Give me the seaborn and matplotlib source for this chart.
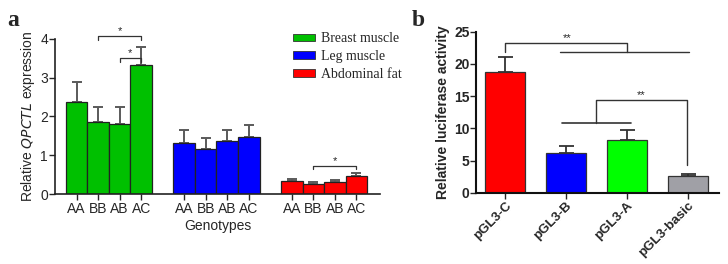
import numpy as np
import pandas as pd
import matplotlib
matplotlib.use("Agg")
import matplotlib.pyplot as plt
import seaborn as sns
from matplotlib.patches import Patch

# ---- data ----
genotypes = ["AA", "BB", "AB", "AC"]
tissues = ["Breast muscle", "Leg muscle", "Abdominal fat"]
breast_mean = [2.36, 1.85, 1.80, 3.32]
breast_err = [0.53, 0.40, 0.43, 0.48]
leg_mean = [1.32, 1.16, 1.37, 1.48]
leg_err = [0.33, 0.28, 0.27, 0.29]
fat_mean = [0.34, 0.25, 0.31, 0.46]
fat_err = [0.05, 0.06, 0.06, 0.08]

constructs = ["pGL3-C", "pGL3-B", "pGL3-A", "pGL3-basic"]
luc_mean = [18.7, 6.1, 8.2, 2.65]
luc_err = [2.4, 1.2, 1.5, 0.3]

tissue_colors = ["#00c000", "#0000ff", "#ff0000"]
construct_colors = ["#ff0000", "#0000ff", "#00ff00", "#a0a0a6"]

sns.set_theme(style="ticks")
plt.rcParams["font.family"] = ["Liberation Sans", "DejaVu Sans"]

fig = plt.figure(figsize=(7.28, 2.64), dpi=100)
axa = fig.add_axes([0.0755, 0.265, 0.4464, 0.588])
axb = fig.add_axes([0.6545, 0.270, 0.333, 0.610])

# ---- panel a ----
rows = []
means_all = [breast_mean, leg_mean, fat_mean]
errs_all = [breast_err, leg_err, fat_err]
for g, t in enumerate(tissues):
    for i, gt in enumerate(genotypes):
        rows.append({"pos": g * 5 + i, "value": means_all[g][i],
                     "err": errs_all[g][i], "tissue": t, "genotype": gt})
dfa = pd.DataFrame(rows)

for g, t in enumerate(tissues):
    sub = dfa[dfa.tissue == t]
    axa.errorbar(sub["pos"], sub["value"], yerr=[np.zeros(len(sub)), sub["err"]],
                 fmt="none", ecolor="#5a5a5a", elinewidth=1.4, capsize=3.6,
                 capthick=1.4, zorder=1)

sns.barplot(data=dfa, x="pos", y="value", hue="tissue", hue_order=tissues,
            palette=tissue_colors, native_scale=True, dodge=False, width=1.0,
            saturation=1, edgecolor="#222222", linewidth=0.9, legend=False,
            ax=axa, zorder=2)

axa.set_xlim(-1.01, 14.1)
axa.set_ylim(0, 4)
axa.set_yticks([0, 1, 2, 3, 4])
axa.set_xticks(dfa["pos"])
axa.set_xticklabels(dfa["genotype"], fontsize=10)
axa.tick_params(axis="y", labelsize=10, length=4, width=1, pad=1)
axa.tick_params(axis="x", length=4, width=1, pad=2)
axa.set_xlabel("Genotypes", fontsize=10, labelpad=2)
axa.set_ylabel("Relative $\\mathit{QPCTL}$ expression", fontsize=10, labelpad=2)
for s in ["top", "right"]:
    axa.spines[s].set_visible(False)
for s in ["left", "bottom"]:
    axa.spines[s].set_linewidth(1.2)
    axa.spines[s].set_color("#222222")

def bracket(ax, x1, x2, y, h, txt, fs=8):
    ax.plot([x1, x1, x2, x2], [y - h, y, y, y - h], color="#333333", lw=0.9,
            clip_on=False)
    ax.text((x1 + x2) / 2, y, txt, ha="center", va="bottom", fontsize=fs)

bracket(axa, 1, 3, 4.07, 0.1, "*")
bracket(axa, 2, 3, 3.51, 0.1, "*")
bracket(axa, 11, 13, 0.73, 0.08, "*")

handles = [Patch(facecolor=c, edgecolor="#333333", linewidth=0.6) for c in tissue_colors]
leg = fig.legend(handles, tissues, loc="upper left", bbox_to_anchor=(0.385, 0.925),
                 frameon=False, prop={"family": "Liberation Serif", "size": 10},
                 handlelength=1.6, handleheight=0.45, handletextpad=0.4,
                 labelspacing=0.35)

fig.text(0.010, 0.90, "a", fontsize=17, fontweight="bold", family="Liberation Serif")
fig.text(0.565, 0.90, "b", fontsize=17, fontweight="bold", family="Liberation Serif")

# ---- panel b ----
dfb = pd.DataFrame({"construct": constructs, "value": luc_mean, "err": luc_err})
axb.errorbar(np.arange(len(dfb)), dfb["value"], yerr=[np.zeros(len(dfb)), dfb["err"]],
             fmt="none", ecolor="#333333", elinewidth=1.3, capsize=5.4,
             capthick=1.3, zorder=1)
sns.barplot(data=dfb, x="construct", y="value", hue="construct",
            palette=construct_colors, width=0.65, saturation=1,
            edgecolor="#333333", linewidth=0.9, legend=False, ax=axb, zorder=2)
axb.set_xlim(-0.47, 3.51)
axb.set_ylim(0, 25)
axb.set_yticks([0, 5, 10, 15, 20, 25])
axb.set_xlabel("")
axb.set_ylabel("Relative luciferase activity", fontsize=10, fontweight="bold", labelpad=3)
axb.tick_params(axis="y", labelsize=10, length=4, width=1, pad=1)
axb.tick_params(axis="x", labelsize=9.5, length=4, width=1, pad=1)
for lab in axb.get_yticklabels():
    lab.set_fontweight("bold")
for lab in axb.get_xticklabels():
    lab.set_fontweight("bold")
    lab.set_rotation(45)
    lab.set_ha("right")
    lab.set_rotation_mode("anchor")
for s in ["top", "right"]:
    axb.spines[s].set_visible(False)
for s in ["left", "bottom"]:
    axb.spines[s].set_linewidth(1.5)
    axb.spines[s].set_color("#111111")

lc = "#333333"
# top bracket: C vs others
axb.plot([0, 0, 2.0, 2.0], [21.8, 23.2, 23.2, 21.8], color=lc, lw=1.0, clip_on=False)
axb.plot([0.9, 3.02], [21.8, 21.8], color=lc, lw=1.0, clip_on=False)
axb.text(1.02, 23.2, "**", ha="center", va="bottom", fontsize=8)
# second bracket: B/A vs basic
axb.plot([0.94, 2.06], [10.9, 10.9], color=lc, lw=1.2, clip_on=False)
axb.plot([1.5, 1.5, 2.99, 2.99], [10.9, 14.4, 14.4, 4.3], color=lc, lw=1.0, clip_on=False)
axb.text(2.23, 14.4, "**", ha="center", va="bottom", fontsize=8)

fig.savefig("out.png", dpi=100)
